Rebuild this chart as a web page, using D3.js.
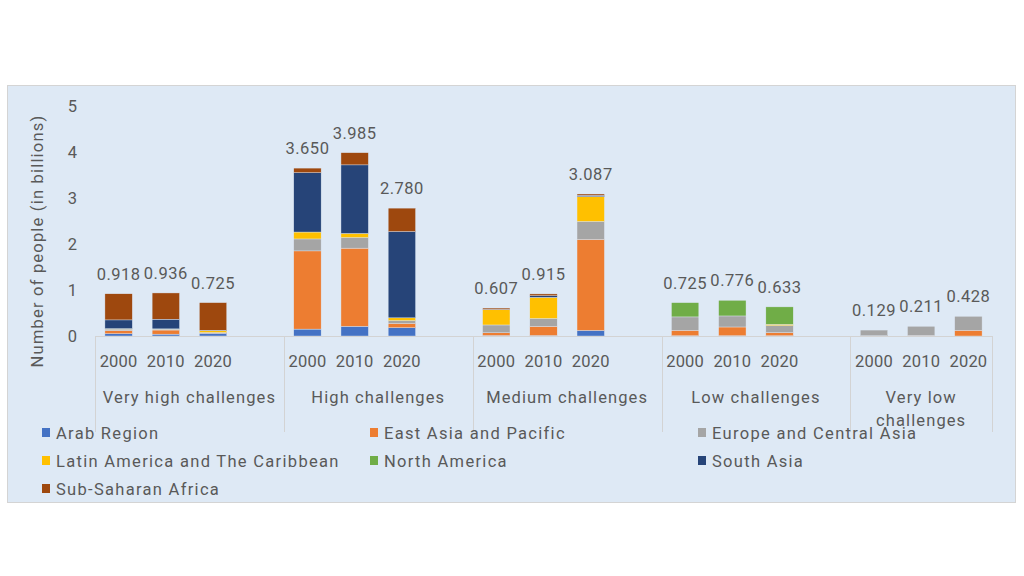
<!DOCTYPE html>
<html>
<head>
<meta charset="utf-8">
<script src="https://cdn.jsdelivr.net/npm/d3@7"></script>
<style>
  html, body { margin: 0; padding: 0; background: #ffffff; }
  svg { display: block; }
  text { font-family: Roboto, "Noto Sans", sans-serif; fill: #595959; }
</style>
</head>
<body>
<svg id="chart" width="1024" height="576"></svg>
<script>
// ---------- data ----------
const categories = ["Very high challenges", "High challenges", "Medium challenges", "Low challenges", "Very low challenges"];
const years = ["2000", "2010", "2020"];
const regions = ["Arab Region", "East Asia and Pacific", "Europe and Central Asia",
                 "Latin America and The Caribbean", "North America", "South Asia", "Sub-Saharan Africa"];
const regionColors = ["#4472C4", "#ED7D31", "#A5A5A5", "#FFC000", "#70AD47", "#264478", "#9E480E"];
// values per region, ordered by category then year (billions)
const arabRegion      = [0.05, 0.04, 0.06,  0.15, 0.21, 0.18,   0.01, 0.01, 0.12,   0.005, 0.006, 0.005, 0, 0, 0];
const eastAsiaPacific = [0.07, 0.09, 0.01,  1.70, 1.70, 0.095,  0.06, 0.20, 1.98,   0.12, 0.19, 0.07,    0.005, 0.011, 0.125];
const europeCentralAs = [0.03, 0.02, 0.005, 0.26, 0.23, 0.06,   0.17, 0.17, 0.39,   0.29, 0.24, 0.15,    0.124, 0.2, 0.303];
const latinAmerica    = [0.01, 0.005, 0.04, 0.15, 0.09, 0.06,   0.33, 0.46, 0.54,   0, 0, 0.03,          0, 0, 0];
const northAmerica    = [0, 0, 0,           0, 0, 0,            0, 0, 0,            0.31, 0.34, 0.378,   0, 0, 0];
const southAsia       = [0.19, 0.21, 0.01,  1.29, 1.49, 1.875,  0.007, 0.035, 0.027, 0, 0, 0,           0, 0, 0];
const subSaharan      = [0.568, 0.571, 0.6, 0.10, 0.265, 0.51,  0.03, 0.04, 0.03,   0, 0, 0,             0, 0, 0];
const totals = ["0.918", "0.936", "0.725", "3.650", "3.985", "2.780", "0.607", "0.915", "3.087",
                "0.725", "0.776", "0.633", "0.129", "0.211", "0.428"];
const yTicks = [0, 1, 2, 3, 4, 5];
const yTitle = "Number of people (in billions)";

const seriesValues = [arabRegion, eastAsiaPacific, europeCentralAs, latinAmerica, northAmerica, southAsia, subSaharan];

// ---------- build table ----------
const rows = [];
categories.forEach((c, ci) => years.forEach((y, yi) => {
  const idx = ci * 3 + yi;
  const r = { key: "s" + (ci * 4 + yi), cat: c, year: y, total: totals[idx] };
  regions.forEach((reg, ri) => r[reg] = seriesValues[ri][idx]);
  rows.push(r);
}));
// slots: 3 years + one blank slot per category (last one has none)
const slotCount = categories.length * 4 - 1;
const slotKeys = d3.range(slotCount).map(i => "s" + i);

// ---------- layout ----------
const svg = d3.select("#chart");
const plotL = 95, plotR = 992, plotT = 106, plotB = 336;

svg.append("rect").attr("x", 7.5).attr("y", 85.5).attr("width", 1008).attr("height", 417)
  .attr("fill", "#dee9f5").attr("stroke", "#d4d4d4").attr("stroke-width", 1);

const x = d3.scaleBand().domain(slotKeys).range([plotL, plotR]).paddingInner(0.42).paddingOuter(0.21);
const y = d3.scaleLinear().domain([0, 5]).range([plotB, plotT]);

// y axis (labels only)
const yAxis = d3.axisLeft(y).tickValues(yTicks).tickFormat(d3.format("d")).tickSize(0).tickPadding(0);
const yg = svg.append("g").attr("transform", "translate(77,0)").call(yAxis);
yg.select(".domain").remove();
yg.selectAll("text").attr("font-size", 16.5).attr("fill", "#595959")
  .style("font-family", "Roboto, sans-serif");

svg.append("text").attr("transform", `translate(43,${(plotT + plotB) / 2 + 20}) rotate(-90)`)
  .attr("text-anchor", "middle").attr("font-size", 16.5).attr("letter-spacing", 1.2).text(yTitle);

// stacked bars
const stack = d3.stack().keys(regions);
const stacked = stack(rows);
const gBars = svg.append("g");
stacked.forEach((layer, li) => {
  gBars.append("g").attr("fill", regionColors[li])
    .selectAll("rect").data(layer.filter(d => d[1] - d[0] > 0)).join("rect")
    .attr("x", d => x(d.data.key))
    .attr("width", x.bandwidth())
    .attr("y", d => y(d[1]))
    .attr("height", d => y(d[0]) - y(d[1]))
    .attr("stroke", "#dee9f5").attr("stroke-width", 0.4);
});

// total labels
svg.append("g").selectAll("text").data(rows).join("text")
  .attr("x", d => x(d.key) + x.bandwidth() / 2)
  .attr("y", d => y(d3.sum(regions, r => d[r])) - 14)
  .attr("text-anchor", "middle").attr("font-size", 16.5).attr("letter-spacing", 0.5).text(d => d.total);

// x axis: baseline + dividers
const axisCol = "#d3d3d3";
svg.append("line").attr("x1", plotL).attr("x2", plotR).attr("y1", plotB + 0.5).attr("y2", plotB + 0.5)
  .attr("stroke", axisCol);
const step = x.step();
const groupStart = ci => plotL + ci * 4 * step;
const groupEnd = ci => Math.min(plotL + (ci * 4 + 4) * step, plotR);
const dividerXs = categories.map((c, ci) => groupStart(ci)).concat([plotR]);
svg.append("g").selectAll("line").data(dividerXs).join("line")
  .attr("x1", d => Math.round(d) + 0.5).attr("x2", d => Math.round(d) + 0.5)
  .attr("y1", plotB).attr("y2", 432).attr("stroke", axisCol);

// year labels
svg.append("g").selectAll("text").data(rows).join("text")
  .attr("x", d => x(d.key) + x.bandwidth() / 2).attr("y", 367)
  .attr("text-anchor", "middle").attr("font-size", 16.5).attr("letter-spacing", 0.2).text(d => d.year);

// category labels (wrap if too narrow)
const catG = svg.append("g");
categories.forEach((c, ci) => {
  const cx = (groupStart(ci) + groupEnd(ci)) / 2;
  const avail = groupEnd(ci) - groupStart(ci) - 6;
  const t = catG.append("text").attr("x", cx).attr("y", 403).attr("text-anchor", "middle")
    .attr("font-size", 16.5).attr("letter-spacing", 1.1).text(c);
  if (t.node().getComputedTextLength() > avail) {
    const words = c.split(" ");
    const l1 = words.slice(0, words.length - 1).join(" ");
    const l2 = words[words.length - 1];
    t.text(null);
    t.append("tspan").attr("x", cx).attr("y", 403).text(l1);
    t.append("tspan").attr("x", cx).attr("y", 426).text(l2);
  }
});

// legend
const legendCols = [42, 370, 698];
const leg = svg.append("g");
regions.forEach((r, i) => {
  const col = i % 3, row = Math.floor(i / 3);
  const lx = legendCols[col], ly = 433 + row * 28;
  leg.append("rect").attr("x", lx).attr("y", ly - 5).attr("width", 8).attr("height", 9).attr("fill", regionColors[i]);
  leg.append("text").attr("x", lx + 14).attr("y", ly + 6).attr("font-size", 16.5).attr("letter-spacing", 1.3).text(r);
});
</script>
</body>
</html>
